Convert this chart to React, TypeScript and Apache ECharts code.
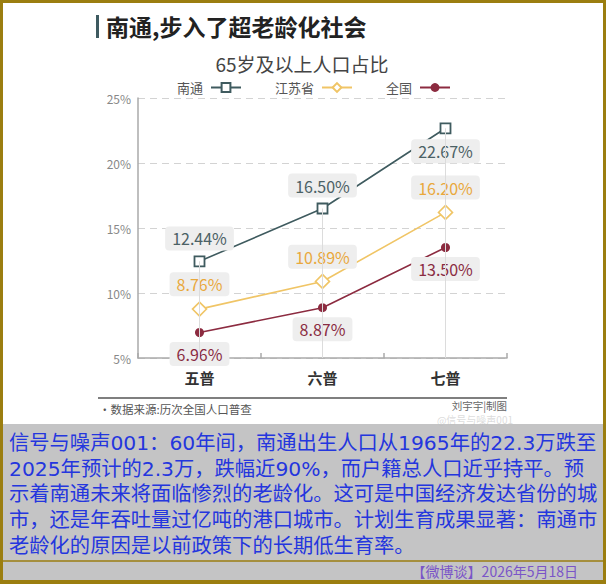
import React, { useEffect, useRef } from "react";
import * as echarts from "echarts";

const categories = ["五普", "六普", "七普"];
const nantong = [12.44, 16.5, 22.67];
const jiangsu = [8.76, 10.89, 16.2];
const national = [6.96, 8.87, 13.5];
const nantongLabelPos = ["top", "top", "bottom"];
const seriesNames = ["南通", "江苏省", "全国"];
const yMin = 5;
const yMax = 25;
const yStep = 5;

const title = "南通,步入了超老龄化社会";
const subtitle = "65岁及以上人口占比";
const sourceText = "·数据来源:历次全国人口普查";
const creditText = "刘宇宇|制图";
const watermark = "@信号与噪声001";
const bodyLines = [
  "信号与噪声001：60年间，南通出生人口从1965年的22.3万跌至",
  "2025年预计的2.3万，跌幅近90%，而户籍总人口近乎持平。预",
  "示着南通未来将面临惨烈的老龄化。这可是中国经济发达省份的城",
  "市，还是年吞吐量过亿吨的港口城市。计划生育成果显著：南通市",
  "老龄化的原因是以前政策下的长期低生育率。",
];
const footer = "【微博谈】2026年5月18日";

const FONT = '"Noto Sans CJK SC", "Noto Sans", sans-serif';
const OLIVE = "#9b7e10";
const C_NT = "#3f5b5f";
const C_JS = "#f0c566";
const C_QG = "#8c2b40";

const fmt = (p: any) => Number(p.value).toFixed(2) + "%";

const labelBase = {
  show: true,
  formatter: fmt,
  fontSize: 16,
  lineHeight: 16,
  padding: [4, 7, 4, 7],
  backgroundColor: "#eeeeee",
  borderRadius: 4,
  distance: 5,
  fontFamily: FONT,
};

export default function App() {
  const ref = useRef<HTMLDivElement>(null);
  useEffect(() => {
    document.body.style.margin = "0";
    const chart = echarts.init(ref.current!, null, { renderer: "svg" });
    const graphics: any[] = [
      { type: "rect", shape: { x: 0, y: 0, width: 606, height: 3 }, style: { fill: OLIVE } },
      { type: "rect", shape: { x: 0, y: 0, width: 3, height: 584 }, style: { fill: OLIVE } },
      { type: "rect", shape: { x: 603, y: 0, width: 3, height: 584 }, style: { fill: OLIVE } },
      { type: "rect", shape: { x: 0, y: 580, width: 606, height: 4 }, style: { fill: OLIVE } },
      { type: "rect", shape: { x: 3, y: 424, width: 600, height: 156 }, style: { fill: "#c4c4c5" } },
      { type: "line", shape: { x1: 3, y1: 561, x2: 603, y2: 561 }, style: { stroke: OLIVE, lineWidth: 1.5 } },
      { type: "rect", shape: { x: 96, y: 15, width: 3, height: 23 }, style: { fill: "#3e5a60" } },
      {
        type: "text", x: 106, y: 26,
        style: { text: title, font: `bold 23px ${FONT}`, fill: "#222", textVerticalAlign: "middle" },
      },
      {
        type: "text", x: 302, y: 63,
        style: { text: subtitle, font: `19px ${FONT}`, fill: "#444", textAlign: "center", textVerticalAlign: "middle" },
      },
      { type: "line", shape: { x1: 98, y1: 398, x2: 507, y2: 398 }, style: { stroke: "#555", lineWidth: 1.5 } },
      {
        type: "text", x: 99, y: 409,
        style: { text: sourceText, font: `11.5px ${FONT}`, fill: "#555", textVerticalAlign: "middle" },
      },
      {
        type: "text", x: 507, y: 405,
        style: { text: creditText, font: `10.5px ${FONT}`, fill: "#666", textAlign: "right", textVerticalAlign: "middle" },
      },
      {
        type: "text", x: 513, y: 419,
        style: { text: watermark, font: `10px ${FONT}`, fill: "rgba(190,190,190,0.55)", textAlign: "right", textVerticalAlign: "middle" },
      },
      ...bodyLines.map((t, i) => ({
        type: "text",
        x: 9,
        y: 443 + i * 25.7,
        style: {
          text: t,
          font: `20.3px "DejaVu Sans", "Noto Sans CJK SC", sans-serif`,
          fill: "#2436de",
          textVerticalAlign: "middle",
        },
      })),
      {
        type: "text", x: 578, y: 571,
        style: { text: footer, font: `14px ${FONT}`, fill: "#7a55c8", textAlign: "right", textVerticalAlign: "middle" },
      },
    ];

    chart.setOption({
      animation: false,
      backgroundColor: "#ffffff",
      textStyle: { fontFamily: FONT },
      grid: { left: 138, right: 99, top: 98, bottom: 226, containLabel: false },
      legend: {
        data: seriesNames,
        left: 177,
        top: 81,
        padding: 0,
        align: "right",
        itemWidth: 30,
        itemHeight: 11,
        itemGap: 33,
        textStyle: { fontSize: 13, color: "#555", fontFamily: FONT, padding: [0, 3, 0, 0] },
      },
      xAxis: {
        type: "category",
        data: categories,
        boundaryGap: true,
        axisLine: { lineStyle: { color: "#aaaaaa", width: 1.5 } },
        axisTick: { show: true, inside: true, length: 5, lineStyle: { color: "#aaaaaa", width: 1.5 } },
        axisLabel: { fontSize: 15, color: "#333", fontWeight: "bold", margin: 12, fontFamily: FONT },
        splitLine: { show: false },
      },
      yAxis: {
        type: "value",
        min: yMin,
        max: yMax,
        interval: yStep,
        axisLine: { show: true, lineStyle: { color: "#aaaaaa", width: 1.5 } },
        axisTick: { show: false },
        axisLabel: { formatter: "{value}%", fontSize: 12, color: "#888", margin: 7, fontFamily: FONT },
        splitLine: { show: true, lineStyle: { color: "#d3d3d3", type: [7, 5], width: 1 } },
      },
      graphic: { elements: graphics },
      series: [
        {
          name: "_drop",
          type: "line",
          data: [],
          z: 1,
          silent: true,
          markLine: {
            silent: true,
            symbol: ["none", "none"],
            label: { show: false },
            lineStyle: { color: "#dcdcdc", type: "solid", width: 1 },
            data: categories.map((c, i) => [{ coord: [c, nantong[i]] }, { coord: [c, yMin] }]),
          },
        },
        {
          name: "南通",
          type: "line",
          z: 3,
          symbol: "rect",
          symbolSize: 10,
          lineStyle: { color: C_NT, width: 1.6 },
          itemStyle: { color: "#ffffff", borderColor: C_NT, borderWidth: 1.8 },
          data: nantong.map((v, i) => ({
            value: v,
            label: { ...labelBase, color: "#4b6165", position: nantongLabelPos[i] },
          })),
          label: { ...labelBase, color: "#4b6165" },
        },
        {
          name: "江苏省",
          type: "line",
          z: 3,
          symbol: "diamond",
          symbolSize: 14,
          lineStyle: { color: C_JS, width: 1.6 },
          itemStyle: { color: "#ffffff", borderColor: C_JS, borderWidth: 1.6 },
          data: jiangsu,
          label: { ...labelBase, color: "#e9a83c", position: "top" },
        },
        {
          name: "全国",
          type: "line",
          z: 3,
          symbol: "circle",
          symbolSize: 9,
          lineStyle: { color: C_QG, width: 1.6 },
          itemStyle: { color: C_QG },
          data: national,
          label: { ...labelBase, color: "#8a2c42", position: "bottom" },
        },
      ],
    });
    return () => chart.dispose();
  }, []);
  return <div ref={ref} style={{ width: 606, height: 584, position: "absolute", left: 0, top: 0 }} />;
}
